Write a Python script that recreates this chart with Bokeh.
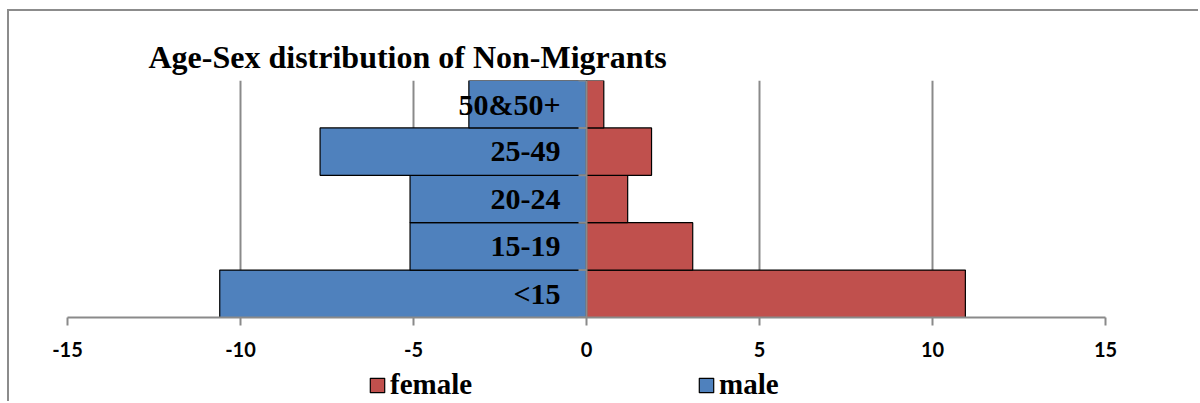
from bokeh.plotting import figure
from bokeh.layouts import column
from bokeh.models import FactorRange, Range1d, Legend, LegendItem, Span, FixedTicker, ColumnDataSource
from bokeh.core.properties import value
from bokeh.embed import file_html
from bokeh.resources import INLINE
import math

categories = ["<15", "15-19", "20-24", "25-49", "50&50+"]
male = [-10.6, -5.1, -5.1, -7.7, -3.4]
female = [10.95, 3.07, 1.19, 1.88, 0.5]
x_ticks = [-15, -10, -5, 0, 5, 10, 15]
title_text = "Age-Sex distribution of Non-Migrants"
series_names = ["female", "male"]
series_colors = ["#C0504D", "#4F81BD"]

GRID = "#8a8a8a"
SERIF = "Liberation Serif"
BORDER = "2px solid #8c8c8c"

p = figure(width=1191, height=357,
           y_range=FactorRange(factors=categories, range_padding=0),
           x_range=Range1d(-15, 15),
           output_backend="svg", toolbar_location=None,
           min_border_left=58, min_border_right=95,
           min_border_top=69, min_border_bottom=51)
p.styles = {"margin-left": "7px", "margin-top": "9px",
            "border-top": BORDER, "border-left": BORDER}
p.outline_line_color = None
p.background_fill_color = "white"
p.border_fill_color = "white"

p.title.text = title_text
p.title.text_font = SERIF
p.title.text_font_style = "bold"
p.title.text_font_size = "32px"
p.title.text_color = "black"
p.title.align = "left"
p.title.offset = 81
p.title.standoff = 12

p.hbar(y=categories, left=male, right=0, height=1,
       fill_color=series_colors[1], line_color="black", line_width=1.2)
p.hbar(y=categories, left=0, right=female, height=1,
       fill_color=series_colors[0], line_color="black", line_width=1.2)

# vertical axis at 0 with small ticks at category boundaries
p.add_layout(Span(location=0, dimension="height", line_color=GRID, line_width=2))
bounds = list(range(len(categories) + 1))
p.ray(x=[0] * len(bounds), y=bounds, length=8, length_units="screen",
      angle=math.pi, line_color=GRID, line_width=2)

p.text(x=[0] * len(categories), y=categories, text=categories,
       x_offset=-26, text_align="right", text_baseline="middle",
       text_font=value(SERIF), text_font_style="bold",
       text_font_size="30px", text_color="black")

p.yaxis.visible = False
p.ygrid.visible = False
p.xaxis.ticker = FixedTicker(ticks=x_ticks)
p.xaxis.major_label_overrides = {t: str(t) for t in x_ticks}
p.xgrid.ticker = FixedTicker(ticks=x_ticks)
p.xgrid.grid_line_color = GRID
p.xgrid.grid_line_width = 2
p.xaxis.axis_line_color = GRID
p.xaxis.axis_line_width = 2
p.xaxis.major_tick_line_color = GRID
p.xaxis.major_tick_line_width = 2
p.xaxis.major_tick_out = 8
p.xaxis.major_tick_in = 0
p.xaxis.minor_tick_line_color = None
p.xaxis.major_label_text_font = "Lato"
p.xaxis.major_label_text_font_style = "bold"
p.xaxis.major_label_text_font_size = "20px"
p.xaxis.major_label_text_color = "black"
p.xaxis.major_label_standoff = 16

# legend strip below the chart (its helper renderers lie outside its view)
lg = figure(width=1191, height=35, x_range=Range1d(0, 1), y_range=Range1d(100, 101),
            output_backend="svg", toolbar_location=None,
            x_axis_location=None, y_axis_location=None,
            min_border_left=0, min_border_right=0,
            min_border_top=0, min_border_bottom=0)
lg.styles = {"margin-left": "7px", "border-left": BORDER}
lg.outline_line_color = None
lg.grid.visible = False
items = []
for name, col, vals in zip(series_names, series_colors, [female, male]):
    src = ColumnDataSource(dict(y=list(range(len(categories))),
                                left=[min(v, 0) for v in vals],
                                right=[max(v, 0) for v in vals]))
    r = lg.hbar(y="y", left="left", right="right", height=1, source=src,
                fill_color=col, line_color="black", line_width=1.2)
    items.append(LegendItem(label=name, renderers=[r]))

legend = Legend(items=items, orientation="horizontal", location=(301, 0),
                padding=0, margin=0, spacing=0, label_standoff=4,
                label_width=307, glyph_width=18, glyph_height=18,
                border_line_alpha=0, background_fill_alpha=0,
                label_text_font=SERIF, label_text_font_style="bold",
                label_text_font_size="29px", label_text_color="black")
lg.add_layout(legend)

layout = column(p, lg, spacing=0)
open("out.html", "w").write(file_html(layout, INLINE))
